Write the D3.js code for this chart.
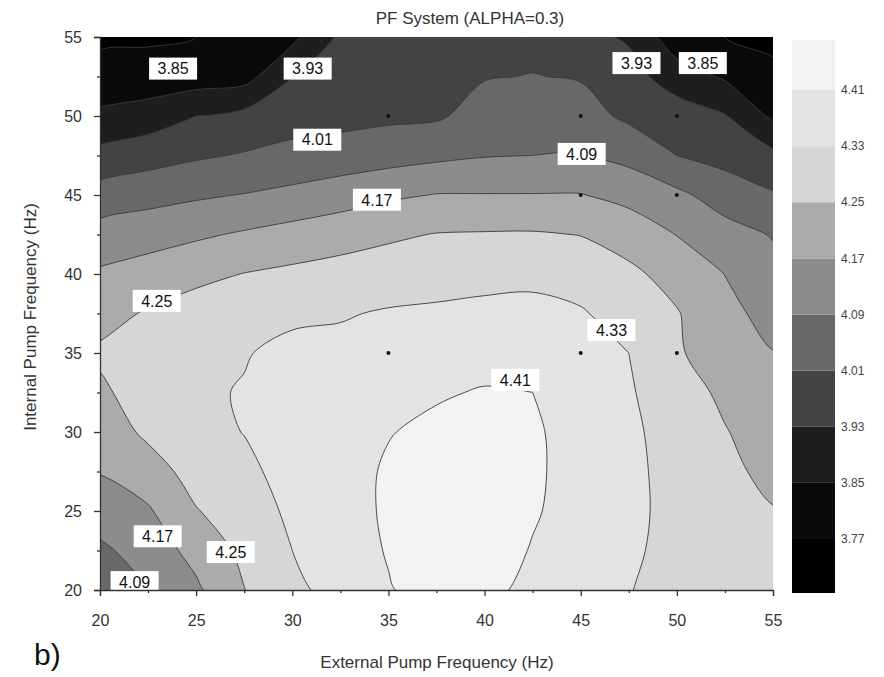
<!DOCTYPE html>
<html>
<head>
<meta charset="utf-8">
<script src="https://cdn.jsdelivr.net/npm/d3@7"></script>
<style>
    body { margin: 0; background: #fff; }
    text { font-family: Arial, "Liberation Sans", sans-serif; }
</style>
</head>
<body>
<svg width="884" height="677"></svg>
<script type="text/javascript">
    // grid of measured/estimated values, x = external, y = internal pump frequency
    var xValues = [20, 22.5, 25, 27.5, 30, 32.5, 35, 37.5, 40, 42.5, 45, 47.5, 50, 52.5, 55];
    var yValues = [20, 22.5, 25, 27.5, 30, 32.5, 35, 37.5, 40, 42.5, 45, 47.5, 50, 52.5, 55];

    // rows listed top (y=55) to bottom (y=20), columns x=20..55
    var zRows = [
        [3.76, 3.76, 3.77, 3.79, 3.83, 3.945, 3.97, 3.98, 3.99, 3.99, 3.955, 3.92, 3.80, 3.77, 3.75],
        [3.79, 3.80, 3.81, 3.82, 3.928, 3.97, 3.99, 3.995, 4.006, 4.012, 4.005, 3.96, 3.89, 3.84, 3.79],
        [3.867, 3.888, 3.93, 3.953, 3.977, 3.985, 3.995, 4.0, 4.04, 4.05, 4.04, 3.995, 3.97, 3.935, 3.835],
        [3.954, 3.978, 4.0, 4.016, 4.033, 4.045, 4.058, 4.073, 4.086, 4.09, 4.095, 4.066, 4.01, 3.983, 3.95],
        [4.043, 4.062, 4.079, 4.093, 4.11, 4.132, 4.157, 4.173, 4.173, 4.173, 4.173, 4.146, 4.107, 4.054, 4.018],
        [4.122, 4.139, 4.158, 4.179, 4.2, 4.219, 4.238, 4.253, 4.256, 4.257, 4.248, 4.217, 4.168, 4.12, 4.085],
        [4.181, 4.203, 4.23, 4.252, 4.266, 4.278, 4.289, 4.3, 4.307, 4.312, 4.298, 4.266, 4.222, 4.169, 4.116],
        [4.222, 4.258, 4.285, 4.288, 4.312, 4.324, 4.337, 4.342, 4.349, 4.351, 4.337, 4.298, 4.255, 4.191, 4.145],
        [4.262, 4.28, 4.31, 4.324, 4.355, 4.35, 4.365, 4.372, 4.384, 4.381, 4.355, 4.33, 4.258, 4.213, 4.172],
        [4.237, 4.285, 4.315, 4.336, 4.368, 4.368, 4.39, 4.403, 4.415, 4.41, 4.37, 4.338, 4.284, 4.235, 4.193],
        [4.206, 4.265, 4.305, 4.332, 4.37, 4.383, 4.407, 4.425, 4.435, 4.42, 4.381, 4.345, 4.298, 4.254, 4.213],
        [4.174, 4.215, 4.28, 4.311, 4.36, 4.383, 4.418, 4.44, 4.445, 4.422, 4.381, 4.348, 4.304, 4.265, 4.233],
        [4.126, 4.161, 4.246, 4.29, 4.345, 4.38, 4.42, 4.445, 4.45, 4.418, 4.378, 4.346, 4.31, 4.275, 4.253],
        [4.075, 4.124, 4.197, 4.269, 4.33, 4.373, 4.415, 4.445, 4.45, 4.405, 4.371, 4.34, 4.311, 4.285, 4.262],
        [4.02, 4.088, 4.155, 4.248, 4.31, 4.361, 4.405, 4.44, 4.44, 4.38, 4.361, 4.332, 4.311, 4.29, 4.27]
    ];

    var levels = [3.77, 3.85, 3.93, 4.01, 4.09, 4.17, 4.25, 4.33, 4.41];
    var bandColors = ["#000000", "#0a0a0a", "#1e1e1e", "#434343", "#686868",
        "#8c8c8c", "#ababab", "#d6d6d6", "#e3e3e3", "#f2f2f2"];

    var xTicks = [20, 25, 30, 35, 40, 45, 50, 55];
    var yTicks = [20, 25, 30, 35, 40, 45, 50, 55];

    // contour labels: [level, x, y] in data units
    var contourLabels = [
        [3.85, 23.8, 53.0], [3.93, 30.8, 53.0], [3.93, 47.9, 53.35], [3.85, 51.35, 53.35],
        [4.01, 31.3, 48.5], [4.09, 45.05, 47.6], [4.17, 34.4, 44.7], [4.25, 22.95, 38.3],
        [4.33, 46.6, 36.45], [4.41, 41.6, 33.3], [4.17, 23.0, 23.4], [4.25, 26.8, 22.4],
        [4.09, 21.8, 20.5]
    ];

    // measurement points
    var samplePoints = [[35, 50], [45, 50], [50, 50], [45, 45], [50, 45], [35, 35], [45, 35], [50, 35]];

    var svg = d3.select("svg");
    var x = d3.scaleLinear().domain([20, 55]).range([100, 773]);
    var y = d3.scaleLinear().domain([20, 55]).range([590, 37]);

    var nx = xValues.length, ny = yValues.length;
    var values = [];
    zRows.slice().reverse().forEach(function (row) {
        row.forEach(function (v) { values.push(v); });
    });

    // grid index coordinate -> pixel (sample i sits at i + 0.5)
    var gx = d3.scaleLinear().domain([0.5, nx - 0.5]).range([x(xValues[0]), x(xValues[nx - 1])]);
    var gy = d3.scaleLinear().domain([0.5, ny - 0.5]).range([y(yValues[0]), y(yValues[ny - 1])]);

    var contours = d3.contours().size([nx, ny]).thresholds(levels)(values);

    var ringLine = d3.line()
            .x(function (p) { return gx(p[0]); })
            .y(function (p) { return gy(p[1]); })
            .curve(d3.curveCatmullRomClosed.alpha(0.5));

    function contourPath(c) {
        var s = "";
        c.coordinates.forEach(function (poly) {
            poly.forEach(function (ring) {
                s += ringLine(ring.slice(0, -1));
            });
        });
        return s;
    }

    svg.append("clipPath").attr("id", "plot-clip")
            .append("rect")
            .attr("x", x(20)).attr("y", y(55))
            .attr("width", x(55) - x(20)).attr("height", y(20) - y(55));

    var plot = svg.append("g").attr("clip-path", "url(#plot-clip)");

    plot.append("rect")
            .attr("x", x(20)).attr("y", y(55))
            .attr("width", x(55) - x(20)).attr("height", y(20) - y(55))
            .attr("fill", bandColors[0]);

    plot.selectAll("path.band")
            .data(contours)
            .enter()
            .append("path")
            .attr("class", "band")
            .attr("d", contourPath)
            .attr("fill", function (d, i) { return bandColors[i + 1]; });

    plot.selectAll("path.iso")
            .data(contours)
            .enter()
            .append("path")
            .attr("class", "iso")
            .attr("d", contourPath)
            .attr("fill", "none")
            .attr("stroke", "#3a3a3a")
            .attr("stroke-width", 0.9);

    plot.selectAll("circle")
            .data(samplePoints)
            .enter()
            .append("circle")
            .attr("cx", function (d) { return x(d[0]); })
            .attr("cy", function (d) { return y(d[1]); })
            .attr("r", 2)
            .attr("fill", "#111");

    var labels = plot.selectAll("g.clabel")
            .data(contourLabels)
            .enter()
            .append("g")
            .attr("class", "clabel")
            .attr("transform", function (d) {
                return "translate(" + x(d[1]) + "," + y(d[2]) + ")";
            });
    labels.append("rect")
            .attr("x", -24).attr("y", -11)
            .attr("width", 48).attr("height", 22)
            .attr("fill", "#fff");
    labels.append("text")
            .attr("text-anchor", "middle")
            .attr("dy", "0.36em")
            .attr("font-size", "16px")
            .attr("fill", "#111")
            .text(function (d) { return d3.format(".2f")(d[0]); });

    // axes
    svg.append("g")
            .attr("transform", "translate(0," + y(20) + ")")
            .call(d3.axisBottom(x).tickValues(xTicks).tickSize(6).tickPadding(19));
    svg.append("g")
            .attr("transform", "translate(0," + y(20) + ")")
            .call(d3.axisBottom(x).tickValues(d3.range(22.5, 55, 5)).tickSize(3).tickFormat(""))
            .select(".domain").remove();
    svg.append("g")
            .attr("transform", "translate(" + x(20) + ",0)")
            .call(d3.axisLeft(y).tickValues(yTicks).tickSize(6).tickPadding(12));
    svg.append("g")
            .attr("transform", "translate(" + x(20) + ",0)")
            .call(d3.axisLeft(y).tickValues(d3.range(22.5, 55, 5)).tickSize(3).tickFormat(""))
            .select(".domain").remove();

    svg.selectAll(".tick text").attr("font-size", "16px").attr("fill", "#333");
    svg.selectAll(".domain, .tick line").attr("stroke", "#333").attr("stroke-width", 1.3);

    // titles
    svg.append("text")
            .attr("x", 470).attr("y", 24)
            .attr("text-anchor", "middle")
            .attr("font-size", "17px")
            .attr("fill", "#333")
            .text("PF System (ALPHA=0.3)");
    svg.append("text")
            .attr("x", 437).attr("y", 668)
            .attr("text-anchor", "middle")
            .attr("font-size", "17px")
            .attr("fill", "#333")
            .text("External Pump Frequency (Hz)");
    svg.append("text")
            .attr("transform", "translate(36,317) rotate(-90)")
            .attr("text-anchor", "middle")
            .attr("font-size", "17px")
            .attr("fill", "#333")
            .text("Internal Pump Frequency (Hz)");
    svg.append("text")
            .attr("x", 34).attr("y", 665)
            .attr("font-size", "30px")
            .attr("fill", "#111")
            .text("b)");

    // colour bar
    var cb = d3.scaleLinear().domain([3.77, 4.41]).range([539, 90]);
    var barTop = 40, barBottom = 593, barX = 792, barW = 43;
    var bands = bandColors.map(function (c, i) {
        return {
            color: c,
            y0: i === 0 ? barBottom : cb(levels[i - 1]),
            y1: i === levels.length ? barTop : cb(levels[i])
        };
    });
    svg.selectAll("rect.cbar")
            .data(bands)
            .enter()
            .append("rect")
            .attr("class", "cbar")
            .attr("x", barX)
            .attr("y", function (d) { return d.y1; })
            .attr("width", barW)
            .attr("height", function (d) { return d.y0 - d.y1; })
            .attr("fill", function (d) { return d.color; });
    svg.selectAll("text.cblab")
            .data(levels)
            .enter()
            .append("text")
            .attr("class", "cblab")
            .attr("x", barX + barW + 6)
            .attr("y", function (d) { return cb(d); })
            .attr("dy", "0.35em")
            .attr("font-size", "12px")
            .attr("fill", "#444")
            .text(function (d) { return d3.format(".2f")(d); });
</script>
</body>
</html>
